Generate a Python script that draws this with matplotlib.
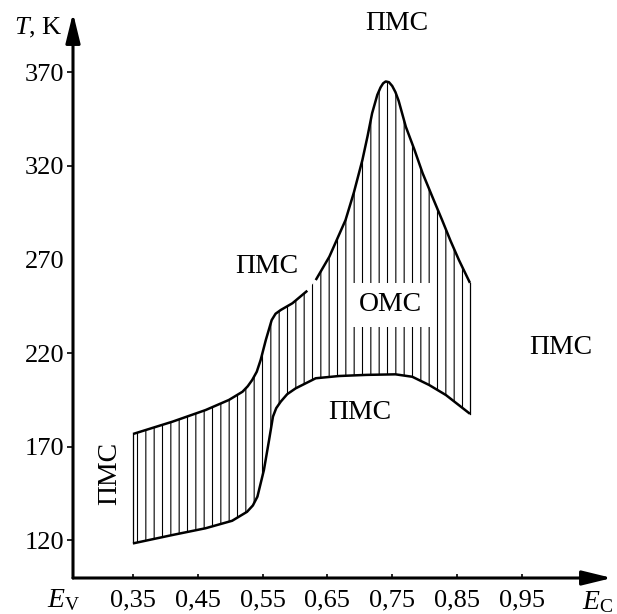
#!/usr/bin/env python3
"""
Phase diagram T(E): region of ordered magnetic state (OMC) between the
paramagnetic (PMC) regions, energy axis from E_V to E_C.
"""
import matplotlib
matplotlib.use("Agg")
import matplotlib.pyplot as plt

# ---------------------------------------------------------------------------
# Data
# ---------------------------------------------------------------------------
# upper boundary, left branch (ends near E = 0.62)
UPPER_LEFT_E = [0.350, 0.411, 0.462, 0.498, 0.519, 0.527, 0.534, 0.541, 0.547, 0.555,
                0.564, 0.570, 0.578, 0.596, 0.619]
UPPER_LEFT_T = [176.7, 183.3, 189.5, 194.9, 199.3, 202.2, 205.6, 210.0, 216.3, 227.0,
                237.6, 241.0, 243.0, 246.6, 253.3]

# upper boundary, right branch with the maximum near E = 0.74
UPPER_RIGHT_E = [0.632, 0.653, 0.678, 0.691, 0.704, 0.712, 0.719, 0.727, 0.732, 0.736,
                 0.740, 0.745, 0.750, 0.755, 0.760, 0.771, 0.784, 0.797, 0.812, 0.827,
                 0.840, 0.853, 0.870]
UPPER_RIGHT_T = [259.0, 271.5, 291.1, 306.0, 323.2, 336.0, 348.2, 358.0, 362.0, 364.2,
                 365.2, 364.8, 362.8, 359.5, 354.8, 341.0, 329.0, 316.1, 303.5, 291.1,
                 280.0, 269.7, 257.5]

# lower boundary
LOWER_E = [0.350, 0.411, 0.462, 0.503, 0.526, 0.535, 0.542, 0.552, 0.560, 0.566, 0.571,
           0.578, 0.588, 0.601, 0.632, 0.668, 0.710, 0.755, 0.781, 0.807, 0.833, 0.870]
LOWER_T = [118.2, 122.7, 126.3, 130.3, 135.1, 138.5, 143.2, 157.4, 173.5, 186.0, 190.5,
           194.0, 198.0, 201.1, 206.5, 207.7, 208.3, 208.6, 207.3, 202.9, 197.5, 187.5]

X_TICKS = [0.35, 0.45, 0.55, 0.65, 0.75, 0.85, 0.95]
X_TICK_LABELS = ["0,35", "0,45", "0,55", "0,65", "0,75", "0,85", "0,95"]
Y_TICKS = [120, 170, 220, 270, 320, 370]
Y_TICK_LABELS = ["120", "170", "220", "270", "320", "370"]

# region labels: (text, E, T, rotation)
REGION_LABELS = [
    ("ПМС", 0.757, 396.0, 0),
    ("ПМС", 0.557, 266.5, 0),
    ("ПМС", 1.010, 223.2, 0),
    ("ПМС", 0.700, 188.4, 0),
    ("ПМС", 0.314, 155.8, 90),
]
OMC_LABEL = ("ОМС", 0.747, 245.7)

# ---------------------------------------------------------------------------
# Style
# ---------------------------------------------------------------------------
FONT = "Liberation Serif"
plt.rcParams["font.family"] = [FONT, "DejaVu Serif"]
plt.rcParams["mathtext.fontset"] = "custom"
plt.rcParams["mathtext.rm"] = FONT
plt.rcParams["mathtext.it"] = FONT + ":italic"
plt.rcParams["hatch.linewidth"] = 0.8

W, H = 617, 614
E_MIN, E_MAX = 0.2574, 1.0892
T_MIN, T_MAX = 99.7, 401.8


def fig_xy(px, py):
    return px / W, 1 - py / H


def main():
    fig = plt.figure(figsize=(W / 100, H / 100), dpi=100)
    ax = fig.add_axes([73 / W, 1 - 578 / H, (612 - 73) / W, (578 - 13) / H])
    ax.set_xlim(E_MIN, E_MAX)
    ax.set_ylim(T_MIN, T_MAX)
    for sp in ax.spines.values():
        sp.set_visible(False)

    # hatched region
    poly_e = UPPER_LEFT_E + UPPER_RIGHT_E + LOWER_E[::-1]
    poly_t = UPPER_LEFT_T + UPPER_RIGHT_T + LOWER_T[::-1]
    ax.fill(poly_e, poly_t, facecolor="none", edgecolor="black", linewidth=0, hatch="||")

    # boundaries
    line = dict(color="black", lw=1.8, solid_capstyle="butt", solid_joinstyle="round")
    ax.plot(UPPER_LEFT_E, UPPER_LEFT_T, **line)
    ax.plot(UPPER_RIGHT_E, UPPER_RIGHT_T, **line)
    ax.plot(LOWER_E, LOWER_T, **line)
    ax.plot([LOWER_E[0], UPPER_LEFT_E[0]], [LOWER_T[0], UPPER_LEFT_T[0]], color="black", lw=0.9)
    ax.plot([LOWER_E[-1], UPPER_RIGHT_E[-1]], [LOWER_T[-1], UPPER_RIGHT_T[-1]], color="black", lw=0.9)

    # labels
    for txt, e, t, rot in REGION_LABELS:
        ax.text(e, t, txt, ha="center", va="center", fontsize=20, rotation=rot, clip_on=False)
    txt, e, t = OMC_LABEL
    ax.text(e, t, txt, ha="center", va="center", fontsize=20,
            bbox=dict(boxstyle="square,pad=0.35", fc="white", ec="none"))

    # axes with arrows
    arrow = dict(arrowstyle="-|>,head_length=0.9,head_width=0.22", color="black",
                 lw=2.2, mutation_scale=20, shrinkA=0, shrinkB=0)
    ax.annotate("", xy=(1, 0), xytext=(0, 0), xycoords="axes fraction",
                textcoords="axes fraction", arrowprops=arrow, annotation_clip=False)
    ax.annotate("", xy=(0, 1), xytext=(0, 0), xycoords="axes fraction",
                textcoords="axes fraction", arrowprops=arrow, annotation_clip=False)

    ax.set_xticks(X_TICKS)
    ax.set_xticklabels(X_TICK_LABELS, fontsize=19)
    ax.tick_params(axis="x", direction="in", length=3, width=1.2, pad=8)
    ax.set_yticks(Y_TICKS)
    ax.set_yticklabels(Y_TICK_LABELS, fontsize=19)
    ax.tick_params(axis="y", direction="out", length=4, width=1.2, pad=2)
    ax.yaxis.get_major_ticks()[3].tick1line.set_visible(False)

    fig.text(*fig_xy(38, 28), "$T$, K", ha="center", va="center", fontsize=19)
    fig.text(*fig_xy(64, 600), r"$E_{\mathrm{V}}$", ha="center", va="center", fontsize=20)
    fig.text(*fig_xy(598, 602), r"$E_{\mathrm{C}}$", ha="center", va="center", fontsize=20)

    fig.savefig("out.png", dpi=100)
    plt.close(fig)


if __name__ == "__main__":
    main()
